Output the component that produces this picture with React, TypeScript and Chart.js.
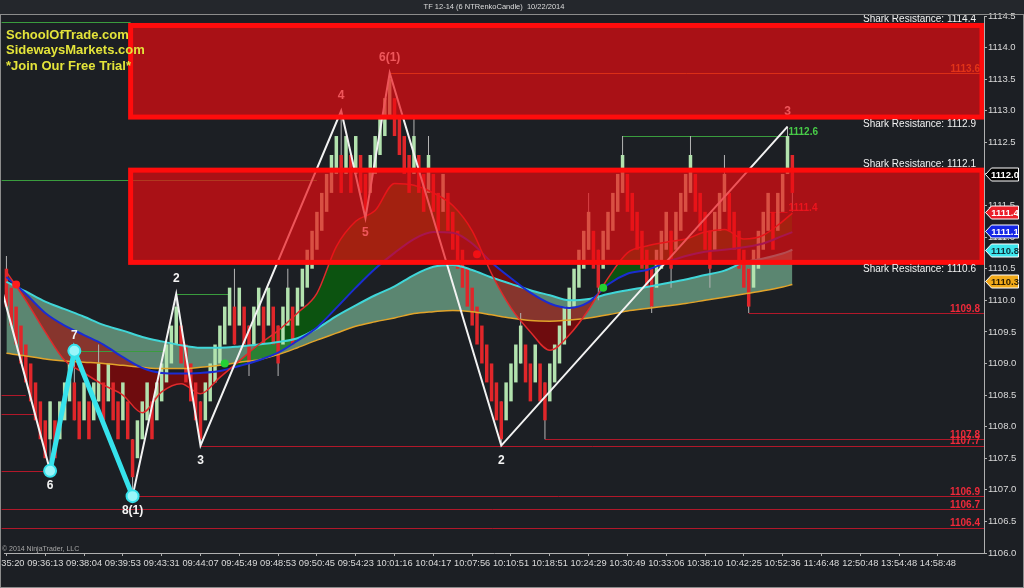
import React, { useEffect, useRef } from 'react';
import { Chart, registerables } from 'chart.js';

Chart.register(...registerables);

// ---------- data ----------
const TIME_LABELS = ['09:35:20', '09:36:13', '09:38:04', '09:39:53', '09:43:31', '09:44:07', '09:45:49', '09:48:53', '09:50:45', '09:54:23', '10:01:16', '10:04:17', '10:07:56', '10:10:51', '10:18:51', '10:24:29', '10:30:49', '10:33:06', '10:38:10', '10:42:25', '10:52:36', '11:46:48', '12:50:48', '13:54:48', '14:58:48'];
const BARS_PER_LABEL = 8;
const SLOT_COUNT = 202;
const Y_TICKS = [1106.0, 1106.5, 1107.0, 1107.5, 1108.0, 1108.5, 1109.0, 1109.5, 1110.0, 1110.5, 1111.0, 1111.5, 1112.0, 1112.5, 1113.0, 1113.5, 1114.0, 1114.5];
const Y_MIN = 1106.0;
const Y_MAX = 1114.5;

const OPENS = [
  1110.5, 1110.2, 1109.9, 1109.6, 1109.3, 1109.0, 1108.7, 1108.4, 1108.1, 1107.8,
  1108.1, 1107.8, 1108.1, 1108.4, 1108.7, 1108.4, 1108.1, 1108.4, 1108.1, 1108.4,
  1108.7, 1108.4, 1108.7, 1108.4, 1108.1, 1108.4, 1107.8, 1107.5, 1107.8, 1108.1,
  1108.4, 1108.1, 1108.4, 1108.7, 1109.0, 1109.3, 1109.6, 1109.3, 1109.0, 1108.7,
  1108.4, 1108.1, 1108.4, 1108.7, 1109.0, 1109.3, 1109.6, 1109.9, 1109.6, 1109.9,
  1109.6, 1109.3, 1109.6, 1109.9, 1109.6, 1109.9, 1109.6, 1109.3, 1109.6, 1109.9,
  1109.6, 1109.9, 1110.2, 1110.5, 1110.8, 1111.1, 1111.4, 1111.7, 1112.0, 1112.3,
  1112.0, 1112.3, 1112.0, 1112.3, 1112.0, 1111.7, 1112.0, 1112.3, 1112.6, 1112.9,
  1113.2, 1112.9, 1112.6, 1112.3, 1112.0, 1112.3, 1112.0, 1111.7, 1112.0, 1111.7,
  1111.4, 1111.7, 1111.4, 1111.1, 1110.8, 1110.5, 1110.2, 1109.9, 1109.6, 1109.3,
  1109.0, 1108.7, 1108.4, 1108.1, 1108.4, 1108.7, 1109.0, 1109.3, 1109.0, 1108.7,
  1109.0, 1108.7, 1108.4, 1108.7, 1109.0, 1109.3, 1109.6, 1109.9, 1110.2, 1110.5,
  1110.8, 1111.1, 1110.8, 1110.5, 1110.8, 1111.1, 1111.4, 1111.7, 1112.0, 1111.7,
  1111.4, 1111.1, 1110.8, 1110.5, 1110.2, 1110.5, 1110.8, 1111.1, 1110.8, 1111.1,
  1111.4, 1111.7, 1112.0, 1111.7, 1111.4, 1111.1, 1110.8, 1111.1, 1111.4, 1111.7,
  1111.4, 1111.1, 1110.8, 1110.5, 1110.2, 1110.5, 1110.8, 1111.1, 1111.4, 1111.1,
  1111.4, 1112.0, 1112.3,
];
const CLOSES = [
  1109.9, 1109.6, 1109.3, 1109.0, 1108.7, 1108.4, 1108.1, 1107.8, 1107.5, 1108.4,
  1107.5, 1108.4, 1108.7, 1109.0, 1108.1, 1107.8, 1108.7, 1107.8, 1108.7, 1109.0,
  1108.1, 1109.0, 1108.1, 1107.8, 1108.7, 1107.8, 1107.2, 1108.1, 1108.4, 1108.7,
  1107.8, 1108.7, 1109.0, 1109.3, 1109.6, 1109.9, 1109.0, 1108.7, 1108.4, 1108.1,
  1107.8, 1108.7, 1109.0, 1109.3, 1109.6, 1109.9, 1110.2, 1109.3, 1110.2, 1109.3,
  1109.0, 1109.9, 1110.2, 1109.3, 1110.2, 1109.3, 1109.0, 1109.9, 1110.2, 1109.3,
  1110.2, 1110.5, 1110.8, 1111.1, 1111.4, 1111.7, 1112.0, 1112.3, 1112.6, 1111.7,
  1112.6, 1111.7, 1112.6, 1111.7, 1111.4, 1112.3, 1112.6, 1112.9, 1113.2, 1113.5,
  1112.6, 1112.3, 1112.0, 1111.7, 1112.6, 1111.7, 1111.4, 1112.3, 1111.4, 1111.1,
  1112.0, 1111.1, 1110.8, 1110.5, 1110.2, 1109.9, 1109.6, 1109.3, 1109.0, 1108.7,
  1108.4, 1108.1, 1107.8, 1108.7, 1109.0, 1109.3, 1109.6, 1108.7, 1108.4, 1109.3,
  1108.4, 1108.1, 1109.0, 1109.3, 1109.6, 1109.9, 1110.2, 1110.5, 1110.8, 1111.1,
  1111.4, 1110.5, 1110.2, 1111.1, 1111.4, 1111.7, 1112.0, 1112.3, 1111.4, 1111.1,
  1110.8, 1110.5, 1110.2, 1109.9, 1110.8, 1111.1, 1111.4, 1110.5, 1111.4, 1111.7,
  1112.0, 1112.3, 1111.4, 1111.1, 1110.8, 1110.5, 1111.4, 1111.7, 1112.0, 1111.1,
  1110.8, 1110.5, 1110.2, 1109.9, 1110.8, 1111.1, 1111.4, 1111.7, 1110.8, 1111.7,
  1112.0, 1112.6, 1111.7,
];
const WICK_BARS = [0, 9, 14, 19, 26, 35, 40, 47, 50, 56, 58, 69, 74, 79, 84, 87, 102, 106, 111, 120, 122, 127, 133, 137, 141, 145, 148, 153, 161, 162];
const WICK_LOWS = [1109.9, 1107.3, 1108.1, 1108.4, 1106.9, 1109.3, 1107.7, 1109.3, 1108.8, 1108.8, 1109.6, 1111.7, 1111.3, 1112.9, 1112.0, 1111.7, 1107.7, 1109.0, 1107.8, 1110.8, 1110.0, 1111.7, 1109.8, 1110.2, 1111.7, 1110.2, 1111.4, 1109.8, 1112.0, 1111.4];
const WICK_HIGHS = [1110.7, 1108.4, 1109.2, 1109.3, 1107.8, 1110.1, 1108.4, 1110.5, 1109.6, 1109.6, 1110.5, 1113.0, 1112.0, 1113.6, 1112.9, 1112.6, 1108.4, 1109.8, 1108.7, 1111.7, 1110.8, 1112.6, 1110.5, 1111.1, 1112.6, 1111.1, 1112.3, 1110.5, 1112.75, 1112.3];

const MA_IDX = [0, 4, 8, 12, 16, 20, 24, 28, 32, 36, 40, 44, 48, 52, 56, 60, 64, 68, 72, 76, 80, 84, 88, 92, 96, 100, 104, 108, 112, 116, 120, 124, 128, 132, 136, 140, 144, 148, 152, 156, 160, 162];
const FAST_MA = [1110.45, 1110.0, 1109.5, 1109.05, 1108.85, 1108.66, 1108.5, 1108.22, 1108.55, 1108.68, 1108.52, 1108.78, 1109.04, 1109.3, 1109.52, 1109.8, 1110.11, 1110.85, 1111.25, 1111.42, 1111.85, 1111.82, 1111.7, 1111.5, 1111.1, 1110.42, 1109.88, 1109.5, 1109.21, 1109.45, 1109.85, 1110.35, 1110.75, 1110.86, 1110.92, 1110.97, 1111.08, 1111.12, 1110.97, 1111.03, 1111.25, 1111.38];
const SLOW_MA = [1110.37, 1110.1, 1109.8, 1109.6, 1109.45, 1109.3, 1109.1, 1108.93, 1108.85, 1108.84, 1108.85, 1108.88, 1108.96, 1109.05, 1109.17, 1109.36, 1109.57, 1109.88, 1110.2, 1110.5, 1110.75, 1110.97, 1111.08, 1111.07, 1110.9, 1110.6, 1110.35, 1110.12, 1109.95, 1109.88, 1109.97, 1110.25, 1110.42, 1110.48, 1110.6, 1110.7, 1110.77, 1110.8, 1110.84, 1110.9, 1111.02, 1111.08];
const BAND_UPPER = [1110.29, 1110.14, 1109.98, 1109.86, 1109.74, 1109.61, 1109.52, 1109.42, 1109.35, 1109.29, 1109.25, 1109.25, 1109.27, 1109.3, 1109.34, 1109.4, 1109.55, 1109.75, 1109.92, 1110.08, 1110.22, 1110.4, 1110.53, 1110.56, 1110.48, 1110.36, 1110.26, 1110.16, 1110.08, 1110.0, 1110.02, 1110.1, 1110.16, 1110.21, 1110.27, 1110.33, 1110.4, 1110.47, 1110.6, 1110.66, 1110.74, 1110.8];
const BAND_LOWER = [1109.16, 1109.12, 1109.07, 1109.04, 1109.02, 1109.0, 1108.97, 1108.94, 1108.92, 1108.92, 1108.94, 1108.97, 1109.02, 1109.06, 1109.14, 1109.25, 1109.37, 1109.48, 1109.59, 1109.66, 1109.72, 1109.79, 1109.82, 1109.84, 1109.82, 1109.77, 1109.72, 1109.68, 1109.67, 1109.69, 1109.72, 1109.77, 1109.83, 1109.87, 1109.91, 1109.95, 1110.0, 1110.05, 1110.1, 1110.15, 1110.21, 1110.25];

const ZZ_IDX = [-1.4, 9, 14, 26, 35, 40, 69, 74, 79, 102, 161];
const ZZ_VAL = [1110.3, 1107.3, 1109.2, 1106.9, 1110.1, 1107.7, 1113.0, 1111.3, 1113.6, 1107.7, 1112.75];
const ZZ_TEXT = ['', '6', '7', '8(1)', '2', '3', '4', '5', '6(1)', '2', '3'];
const CYAN_LEGS = [1, 2, 3];

const SIGNAL_IDX = [2, 45, 97, 123];
const SIGNAL_VAL = [1110.25, 1109.0, 1110.73, 1110.2];
const SIGNAL_SIDE = ['sell', 'buy', 'sell', 'buy'];

const ZONE_LOW = [1112.9, 1110.6];
const ZONE_HIGH = [1114.35, 1112.06];
const ZONE_FROM = [25.6, 25.6];
const ZONE_TOP_TEXT = ['1114.4', '1112.1'];
const ZONE_BOTTOM_TEXT = ['1112.9', '1110.6'];

const LEVEL_VALUE = [1114.4, 1111.9, 1113.6, 1110.1, 1109.2, 1112.6, 1111.4, 1109.8, 1107.8, 1107.7, 1106.9, 1106.7, 1106.4, 1108.5, 1108.2, 1107.3];
const LEVEL_FROM = [-1, -1, 79, 35, 14, 127, 157, 153, 111, 40, 26, -1, -1, -1, -1, -1];
const LEVEL_TO: (number | null)[] = [25.6, 64, null, 46, 33, 161, 161, null, null, null, null, null, null, 4, 6, 9];
const LEVEL_KIND = ['green', 'green', 'orange', 'green', 'green', 'green', 'red', 'red', 'red', 'red', 'red', 'red', 'red', 'red', 'red', 'red'];
const LEVEL_LABELED = [false, false, true, false, false, true, true, true, true, true, true, true, true, false, false, false];

const FLAG_VALUES = [1112.0, 1111.4, 1111.1, 1110.8, 1110.3];
const FLAG_KIND = ['price', 'fast', 'slow', 'upper', 'lower'];

const SITE_LINES = ['SchoolOfTrade.com', 'SidewaysMarkets.com', '*Join Our Free Trial*'];
const TITLE = 'TF 12-14 (6 NTRenkoCandle)  10/22/2014';
const COPYRIGHT = '\u00A9 2014 NinjaTrader, LLC';

// ---------- styles ----------
const FONT = '"Liberation Sans", Arial, Helvetica, sans-serif';
const BG = '#1c1f24';
const STRIP = '#24272c';
const UP = '#b2e2ae';
const DOWN = '#e0262a';
const WICK = '#b4b4b4';
const LEVEL_COLORS: any = { green: '#3a9c3e', orange: '#b87a22', red: '#b2182a' };
const LEVEL_TEXT: any = { green: '#48cc48', orange: '#cc8a2a', red: '#ee2a3a' };
const FLAG_STYLE: any = {
  price: { fill: '#000000', edge: '#ffffff', text: '#ffffff' },
  fast: { fill: '#ea1e28', edge: '#ffffff', text: '#ffffff' },
  slow: { fill: '#1426e6', edge: '#ffffff', text: '#ffffff' },
  upper: { fill: '#3ee6ee', edge: '#ffffff', text: '#10303a' },
  lower: { fill: '#f2aa1a', edge: '#ffffff', text: '#2a1c00' },
};

const overlayPlugin = {
  id: 'renkoOverlay',
  beforeDraw(chart: any) {
    const { ctx, width, height } = chart;
    ctx.save();
    ctx.fillStyle = STRIP;
    ctx.fillRect(0, 0, width, 15);
    ctx.fillStyle = BG;
    ctx.fillRect(0, 15, width, height - 15);
    ctx.restore();
  },
  beforeDatasetsDraw(chart: any) {
    const { ctx, chartArea: ca, scales } = chart;
    const xs = scales.x, ys = scales.y;
    ctx.save();
    ctx.beginPath();
    ctx.rect(0, ca.top, ca.right, ca.bottom - ca.top);
    ctx.clip();
    LEVEL_VALUE.forEach((v, k) => {
      const x0 = Math.max(1, xs.getPixelForValue(LEVEL_FROM[k]));
      const to = LEVEL_TO[k];
      const x1 = to === null ? ca.right : xs.getPixelForValue(to);
      const y = Math.round(ys.getPixelForValue(v)) + 0.5;
      ctx.strokeStyle = LEVEL_COLORS[LEVEL_KIND[k]];
      ctx.lineWidth = 1;
      ctx.beginPath();
      ctx.moveTo(x0, y);
      ctx.lineTo(x1, y);
      ctx.stroke();
    });
    ctx.restore();
  },
  afterDatasetsDraw(chart: any) {
    const { ctx, chartArea: ca, scales } = chart;
    const xs = scales.x, ys = scales.y;
    ctx.save();
    ctx.beginPath();
    ctx.rect(ca.left, ca.top, ca.right - ca.left, ca.bottom - ca.top);
    ctx.clip();

    // level labels
    ctx.font = `bold 10px ${FONT}`;
    ctx.textBaseline = 'middle';
    LEVEL_VALUE.forEach((v, k) => {
      if (!LEVEL_LABELED[k]) return;
      const y = ys.getPixelForValue(v) - 4;
      ctx.fillStyle = LEVEL_TEXT[LEVEL_KIND[k]];
      const to = LEVEL_TO[k];
      if (to === null) {
        ctx.textAlign = 'right';
        ctx.fillText(v.toFixed(1), ca.right - 4, y);
      } else {
        ctx.textAlign = 'left';
        ctx.fillText(v.toFixed(1), xs.getPixelForValue(to) + 1, y);
      }
    });

    // zigzag labels
    ctx.font = `bold 12px ${FONT}`;
    ctx.textAlign = 'center';
    ctx.fillStyle = '#f4f4f4';
    ZZ_TEXT.forEach((t, k) => {
      if (!t) return;
      const high = ZZ_VAL[k] > ZZ_VAL[k - 1];
      const x = xs.getPixelForValue(ZZ_IDX[k]);
      const y = ys.getPixelForValue(ZZ_VAL[k]) + (high ? -15 : 15);
      ctx.fillText(t, x, y);
    });

    // resistance zones
    ZONE_LOW.forEach((lo, k) => {
      const x0 = xs.getPixelForValue(ZONE_FROM[k]);
      const x1 = ca.right - 2;
      const yTop = ys.getPixelForValue(ZONE_HIGH[k]);
      const yBot = ys.getPixelForValue(lo);
      ctx.fillStyle = 'rgba(236,10,16,0.68)';
      ctx.fillRect(x0, yTop, x1 - x0, yBot - yTop);
      ctx.strokeStyle = '#ff0c0c';
      ctx.lineWidth = 5;
      ctx.strokeRect(x0, yTop, x1 - x0, yBot - yTop);
    });
    ctx.restore();

    ctx.save();
    ctx.font = `10px ${FONT}`;
    ctx.fillStyle = '#f2f2f2';
    ctx.textAlign = 'right';
    ctx.textBaseline = 'middle';
    ZONE_LOW.forEach((lo, k) => {
      const yTop = ys.getPixelForValue(ZONE_HIGH[k]);
      const yBot = ys.getPixelForValue(lo);
      ctx.fillText(`Shark Resistance: ${ZONE_TOP_TEXT[k]}`, 976, yTop - 6);
      ctx.fillText(`Shark Resistance: ${ZONE_BOTTOM_TEXT[k]}`, 976, yBot + 7);
    });
    ctx.restore();
  },
  afterDraw(chart: any) {
    const { ctx, chartArea: ca, scales, width, height } = chart;
    const ys = scales.y;
    ctx.save();
    // frame
    ctx.strokeStyle = '#8c8c8c';
    ctx.lineWidth = 1;
    ctx.strokeRect(0.5, 14.5, width - 1, height - 15);

    // site text
    ctx.font = `bold 13px ${FONT}`;
    ctx.fillStyle = '#e4e43a';
    ctx.textAlign = 'left';
    ctx.textBaseline = 'middle';
    SITE_LINES.forEach((t, k) => ctx.fillText(t, 6, 35 + k * 15.5));

    // title
    ctx.font = `7.5px ${FONT}`;
    ctx.fillStyle = '#dcdcdc';
    ctx.textAlign = 'center';
    ctx.fillText(TITLE, 494, 7);

    // copyright
    ctx.font = `7px ${FONT}`;
    ctx.fillStyle = '#a8a8a8';
    ctx.textAlign = 'left';
    ctx.fillText(COPYRIGHT, 2, 549);

    // value flags on the axis
    ctx.font = `bold 9.5px ${FONT}`;
    FLAG_VALUES.forEach((v, k) => {
      const st = FLAG_STYLE[FLAG_KIND[k]];
      const y = Math.round(ys.getPixelForValue(v)) + 0.5;
      const x0 = ca.right + 1.5, x1 = 1018.5, h = 6.5;
      ctx.beginPath();
      ctx.moveTo(x0, y);
      ctx.lineTo(x0 + 6, y - h);
      ctx.lineTo(x1, y - h);
      ctx.lineTo(x1, y + h);
      ctx.lineTo(x0 + 6, y + h);
      ctx.closePath();
      ctx.fillStyle = st.fill;
      ctx.fill();
      ctx.strokeStyle = st.edge;
      ctx.lineWidth = 1;
      ctx.stroke();
      ctx.fillStyle = st.text;
      ctx.textAlign = 'center';
      ctx.fillText(v.toFixed(1), (x0 + 6 + x1) / 2, y + 0.5);
    });
    ctx.restore();
  },
};

const maPoints = (vals: number[]) => MA_IDX.map((x, k) => ({ x, y: vals[k] }));

export default function App() {
  const ref = useRef<HTMLCanvasElement | null>(null);

  useEffect(() => {
    document.body.style.margin = '0';
    document.body.style.background = BG;
    const canvas = ref.current;
    if (!canvas) return;

    const bodies = CLOSES.map((c, i) => ({ x: i, y: [OPENS[i], c] }));
    const bodyColors = CLOSES.map((c, i) => (c > OPENS[i] ? UP : DOWN));
    const wicks = WICK_BARS.map((b, k) => ({ x: b, y: [WICK_LOWS[k], WICK_HIGHS[k]] }));

    const chart = new Chart(canvas, {
      type: 'bar',
      data: {
        datasets: [
          {
            type: 'line', label: 'fast', data: maPoints(FAST_MA),
            borderColor: '#e02a2c', borderWidth: 1.5, pointRadius: 0,
            cubicInterpolationMode: 'monotone', tension: 0.4,
            fill: { target: 1, above: 'rgba(0,125,0,0.55)', below: 'rgba(165,0,0,0.6)' },
            order: 2,
          },
          {
            type: 'line', label: 'slow', data: maPoints(SLOW_MA),
            borderColor: '#1a2cd2', borderWidth: 2, pointRadius: 0,
            cubicInterpolationMode: 'monotone', tension: 0.4, fill: false, order: 2,
          },
          {
            type: 'line', label: 'upper', data: maPoints(BAND_UPPER),
            borderColor: '#40d6d8', borderWidth: 2, pointRadius: 0,
            cubicInterpolationMode: 'monotone', tension: 0.4,
            fill: { target: 3, above: 'rgba(150,230,185,0.52)', below: 'rgba(150,230,185,0.52)' },
            order: 3,
          },
          {
            type: 'line', label: 'lower', data: maPoints(BAND_LOWER),
            borderColor: '#e2a42a', borderWidth: 1.5, pointRadius: 0,
            cubicInterpolationMode: 'monotone', tension: 0.4, fill: false, order: 3,
          },
          {
            type: 'line', label: 'zigzag', data: ZZ_IDX.map((x, k) => ({ x, y: ZZ_VAL[k] })),
            borderColor: '#f2f2f2', borderWidth: 2, pointRadius: 0, tension: 0, fill: false, order: 1,
          },
          {
            type: 'line', label: 'legs', data: CYAN_LEGS.map((k) => ({ x: ZZ_IDX[k], y: ZZ_VAL[k] })),
            borderColor: '#36e2ec', borderWidth: 5, pointRadius: 6,
            pointBackgroundColor: '#9af6fa', pointBorderColor: '#36e2ec', pointBorderWidth: 2,
            tension: 0, fill: false, order: 0,
          },
          {
            type: 'line', label: 'signals', data: SIGNAL_IDX.map((x, k) => ({ x, y: SIGNAL_VAL[k] })),
            showLine: false, pointRadius: 4,
            pointBackgroundColor: SIGNAL_SIDE.map((s) => (s === 'buy' ? '#24d034' : '#ff1c1c')),
            pointBorderColor: SIGNAL_SIDE.map((s) => (s === 'buy' ? '#24d034' : '#ff1c1c')),
            pointBorderWidth: 0, fill: false, order: 0,
          },
          {
            type: 'bar', label: 'wicks', data: wicks, backgroundColor: WICK,
            grouped: false, maxBarThickness: 1, borderWidth: 0, order: 6,
          },
          {
            type: 'bar', label: 'bodies', data: bodies, backgroundColor: bodyColors,
            grouped: false, barPercentage: 0.9, categoryPercentage: 0.8, borderWidth: 0, order: 5,
          },
        ] as any,
      },
      options: {
        responsive: false,
        maintainAspectRatio: false,
        devicePixelRatio: 1,
        animation: false,
        events: [],
        layout: { autoPadding: false, padding: { left: 4, top: 16, right: 0, bottom: 0 } },
        plugins: {
          legend: { display: false },
          tooltip: { enabled: false },
          filler: { drawTime: 'beforeDatasetsDraw' },
        } as any,
        scales: {
          x: {
            type: 'linear',
            min: -0.5,
            max: SLOT_COUNT - 0.5,
            offset: false,
            grid: { display: true, drawOnChartArea: false, offset: false, tickLength: 3, color: '#b0b0b0' },
            border: { display: true, color: '#b0b0b0' },
            ticks: {
              color: '#dadada', font: { size: 9.3, family: FONT }, padding: 2,
              autoSkip: false, maxRotation: 0, minRotation: 0,
              callback: (v: any) => TIME_LABELS[Math.round(Number(v) / BARS_PER_LABEL)] ?? '',
            },
            afterBuildTicks: (s: any) => {
              s.ticks = TIME_LABELS.map((_, k) => ({ value: k * BARS_PER_LABEL }));
            },
            afterFit: (s: any) => {
              s.height = 35;
              s.paddingLeft = 0;
              s.paddingRight = 0;
            },
          },
          y: {
            type: 'linear',
            position: 'right',
            min: Y_MIN,
            max: Y_MAX,
            grid: { display: true, drawOnChartArea: false, tickLength: 3, color: '#b0b0b0' },
            border: { display: true, color: '#b0b0b0' },
            ticks: {
              color: '#dadada', font: { size: 9.5, family: FONT }, padding: 1,
              callback: (v: any) => Number(v).toFixed(1),
            },
            afterBuildTicks: (s: any) => {
              s.ticks = Y_TICKS.map((v) => ({ value: v }));
            },
            afterFit: (s: any) => {
              s.width = 40;
              s.paddingTop = 0;
              s.paddingBottom = 0;
            },
          },
        } as any,
      },
      plugins: [overlayPlugin],
    } as any);

    return () => chart.destroy();
  }, []);

  return <canvas ref={ref} width={1024} height={588} style={{ display: 'block', width: 1024, height: 588 }} />;
}
